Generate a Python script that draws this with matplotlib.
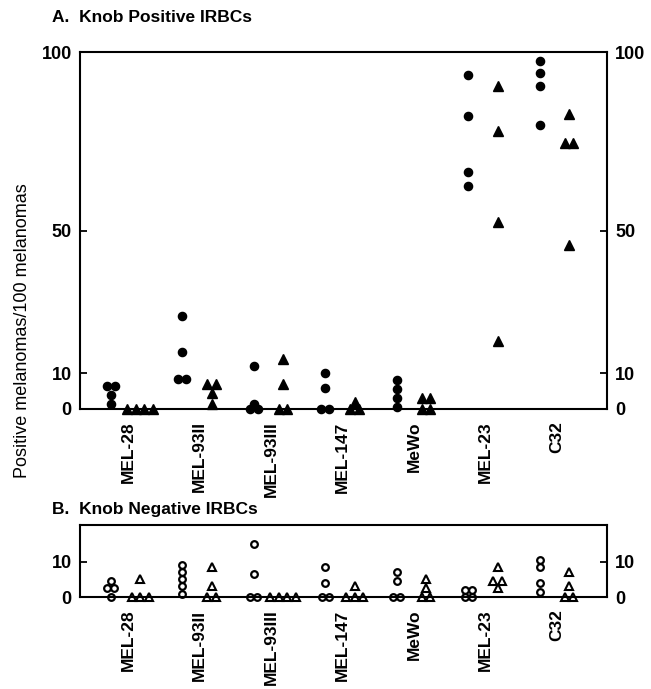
import numpy as np
import matplotlib.pyplot as plt

plt.rcParams['font.family'] = ['Liberation Sans', 'DejaVu Sans']

# data
lines = ['MEL-28', 'MEL-93II', 'MEL-93III', 'MEL-147', 'MeWo', 'MEL-23', 'C32']

# A. knob positive IRBCs (filled circles / filled triangles)
pos_circles = [
    [6.5, 6.5, 4, 1.5],
    [26, 16, 8.5, 8.5],
    [12, 1.5, 0, 0],
    [10, 6, 0, 0],
    [8, 5.5, 3, 0.5],
    [93.5, 82, 66.5, 62.5],
    [97.5, 94, 90.5, 79.5],
]
pos_triangles = [
    [0, 0, 0, 0],
    [7, 7, 4.5, 1.5],
    [14, 7, 0, 0],
    [2, 0, 0],
    [3, 3, 0, 0],
    [90.5, 78, 52.5, 19],
    [82.5, 74.5, 74.5, 46],
]

# B. knob negative IRBCs (open circles / open triangles)
neg_circles = [
    [4.5, 2.5, 2.5, 0],
    [9, 7, 5, 3, 1],
    [15, 6.5, 0, 0],
    [8.5, 4, 0, 0],
    [7, 4.5, 0, 0],
    [2, 2, 0, 0],
    [10.5, 8.5, 4, 1.5],
]
neg_triangles = [
    [5, 0, 0, 0],
    [8.5, 3, 0, 0],
    [0, 0, 0, 0],
    [3, 0, 0, 0],
    [5, 2.5, 0, 0],
    [8.5, 4.5, 4.5, 2.5],
    [7, 3, 0, 0],
]


def spread(vals, step):
    # put tied values side by side
    counts = {}
    for v in vals:
        counts[v] = counts.get(v, 0) + 1
    seen = {}
    offs = []
    for v in vals:
        k = seen.get(v, 0)
        seen[v] = k + 1
        offs.append((k - (counts[v] - 1) / 2) * step)
    return np.array(offs)


def draw_group(ax, groups, shift, step, **kw):
    for i, vals in enumerate(groups):
        x = i + shift + spread(vals, step)
        ax.plot(x, vals, linestyle='none', clip_on=False, **kw)


def style_axis(ax, yticks, ylim):
    ax.set_xlim(-0.67, 6.70)
    ax.set_ylim(*ylim)
    ax.set_yticks(yticks)
    ax.set_xticks(range(len(lines)))
    ax.set_xticklabels(lines, rotation=90, fontsize=12.5, fontweight='bold', va='top')
    ax.tick_params(axis='x', length=0, pad=9)
    ax.tick_params(axis='y', direction='in', length=5, width=1.3, left=True, right=True,
                   labelleft=True, labelright=True, labelsize=13, pad=6)
    for t in ax.yaxis.get_major_ticks():
        t.label1.set_fontweight('bold')
        t.label2.set_fontweight('bold')
    for s in ax.spines.values():
        s.set_linewidth(1.5)


fig = plt.figure(figsize=(6.51, 6.89), dpi=100)
axA = fig.add_axes([0.1229, 0.4064, 0.8095, 0.5181])
axB = fig.add_axes([0.1229, 0.1335, 0.8095, 0.1045])

draw_group(axA, pos_circles, -0.24, 0.11, marker='o', ms=5.9, color='black')
draw_group(axA, pos_triangles, 0.17, 0.12, marker='^', ms=7, color='black')
style_axis(axA, [0, 10, 50, 100], (0, 100))

draw_group(axB, neg_circles, -0.24, 0.095, marker='o', ms=4.8, mfc='white', mec='black', mew=1.6)
draw_group(axB, neg_triangles, 0.17, 0.118, marker='^', ms=6, mfc='white', mec='black', mew=1.5)
style_axis(axB, [0, 10], (0, 20.5))

fig.text(0.08, 0.974, 'A.  Knob Positive IRBCs', fontsize=12.5, fontweight='bold', va='center')
fig.text(0.08, 0.260, 'B.  Knob Negative IRBCs', fontsize=12.5, fontweight='bold', va='center')
fig.text(0.034, 0.52, 'Positive melanomas/100 melanomas', rotation=90, fontsize=13,
         ha='center', va='center')

fig.savefig('out.png', dpi=100)
